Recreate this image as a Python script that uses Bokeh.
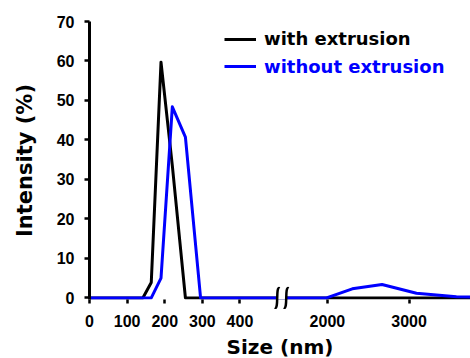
from bokeh.plotting import figure
from bokeh.models import Range1d, FixedTicker, Legend, LegendItem
from bokeh.embed import file_html
from bokeh.resources import INLINE

# ---- data ----
size_nm = [0.4, 122.4, 141.8, 164.2, 190.1, 220.2, 255.0, 295.3, 342.0, 396.1,
           458.7, 531.2, 1484.0, 1718.0, 1990.0, 2305.0, 2669.0, 3091.0, 3580.0, 4145.0]
with_extrusion = [0, 0, 0, 3.9, 59.7, 33.5, 0, 0, 0, 0,
                  0, 0, 0, 0, 0, 0, 0, 0, 0, 0]
without_extrusion = [0, 0, 0, 0, 5.0, 48.4, 40.7, 0, 0, 0,
                     0, 0, 0, 0, 0, 2.3, 3.4, 1.2, 0.3, 0]

x_tick_values = [0, 100, 200, 300, 400, 2000, 3000]
x_tick_labels = ["0", "100", "200", "300", "400", "2000", "3000"]
y_tick_values = [0, 10, 20, 30, 40, 50, 60, 70]

# ---- broken x axis: 0-500 | gap | 1500- ----
LEFT_END = 500.0
RIGHT_START = 1500.0
GAP = 24.0
RIGHT_SCALE = 0.217
X_MAX = 3753.0


def broken(x):
    if x <= LEFT_END:
        return round(x, 6)
    if x < RIGHT_START:
        return round(LEFT_END + (x - LEFT_END) / (RIGHT_START - LEFT_END) * GAP, 6)
    return round(LEFT_END + GAP + (x - RIGHT_START) * RIGHT_SCALE, 6)


xs = [broken(v) for v in size_nm]
xticks = [broken(v) for v in x_tick_values]

p = figure(frame_width=381, frame_height=278,
           min_border_left=89, min_border_right=0, min_border_top=21, min_border_bottom=59,
           x_range=Range1d(0, broken(X_MAX)), y_range=Range1d(-0.4, 70),
           output_backend="svg", toolbar_location=None)

p.xgrid.visible = False
p.ygrid.visible = False
p.outline_line_color = None
p.background_fill_color = "white"
p.border_fill_color = "white"

r1 = p.line(xs, with_extrusion, line_color="black", line_width=3, line_join="round")
r2 = p.line(xs, without_extrusion, line_color="#0000FF", line_width=3, line_join="round")

# y axis
ya = p.yaxis[0]
ya.ticker = FixedTicker(ticks=y_tick_values)
ya.axis_line_width = 3
ya.axis_line_color = "black"
ya.major_tick_line_width = 2.5
ya.major_tick_out = 5
ya.major_tick_in = 0
ya.minor_tick_line_color = None
ya.major_label_text_font = "Liberation Sans"
ya.major_label_text_font_size = "16px"
ya.major_label_text_font_style = "bold"
ya.major_label_text_color = "black"
ya.major_label_standoff = 10
ya.axis_label = "Intensity (%)"
ya.axis_label_text_font = "DejaVu Sans"
ya.axis_label_text_font_size = "21px"
ya.axis_label_text_font_style = "bold"
ya.axis_label_text_color = "black"
ya.axis_label_standoff = 17

# x axis
xa = p.xaxis[0]
xa.ticker = FixedTicker(ticks=xticks)
xa.major_label_overrides = {t: lab for t, lab in zip(xticks, x_tick_labels)}
xa.axis_line_color = None
xa.major_tick_line_width = 2.5
xa.major_tick_line_color = "black"
xa.major_tick_out = 4
xa.major_tick_in = 0
xa.minor_tick_line_color = None
xa.major_label_text_font = "Liberation Sans"
xa.major_label_text_font_size = "16px"
xa.major_label_text_font_style = "bold"
xa.major_label_text_color = "black"
xa.major_label_standoff = 11
xa.axis_label = "Size (nm)"
xa.axis_label_text_font = "DejaVu Sans"
xa.axis_label_text_font_size = "20px"
xa.axis_label_text_font_style = "bold"
xa.axis_label_text_color = "black"
xa.axis_label_standoff = 5

# axis break: white gap in the baseline plus two curved marks
b_left = broken(LEFT_END) - 1.0
b_right = broken(RIGHT_START) - 1.0
p.quad(left=[b_left], right=[b_right], bottom=[-0.4], top=[0.6],
       fill_color="white", line_color=None)
bx = [b_left, b_right]
hw = 6.6   # half width of a mark (x units)
hh = 2.45  # half height of a mark (y units)
p.bezier(x0=[c + hw for c in bx], y0=[hh, hh],
         x1=[c - hw for c in bx], y1=[-hh, -hh],
         cx0=[c - 5.5 for c in bx], cy0=[hh * 1.25, hh * 1.25],
         cx1=[c + 5.5 for c in bx], cy1=[-hh * 1.25, -hh * 1.25],
         line_color="black", line_width=2.5, level="overlay")

# legends (one per item so that each label has its own colour)
common = dict(label_text_font="DejaVu Sans", label_text_font_size="18px",
              label_text_font_style="bold", glyph_width=32, glyph_height=20,
              label_height=20, label_standoff=8, padding=0, margin=0, spacing=0,
              border_line_color=None, background_fill_alpha=0)
leg1 = Legend(items=[LegendItem(label="with extrusion", renderers=[r1])],
              location=(135, 250), label_text_color="black", **common)
leg2 = Legend(items=[LegendItem(label="without extrusion", renderers=[r2])],
              location=(135, 222.5), label_text_color="#0000FF", **common)
p.add_layout(leg1)
p.add_layout(leg2)

open("out.html", "w").write(file_html(p, INLINE))
